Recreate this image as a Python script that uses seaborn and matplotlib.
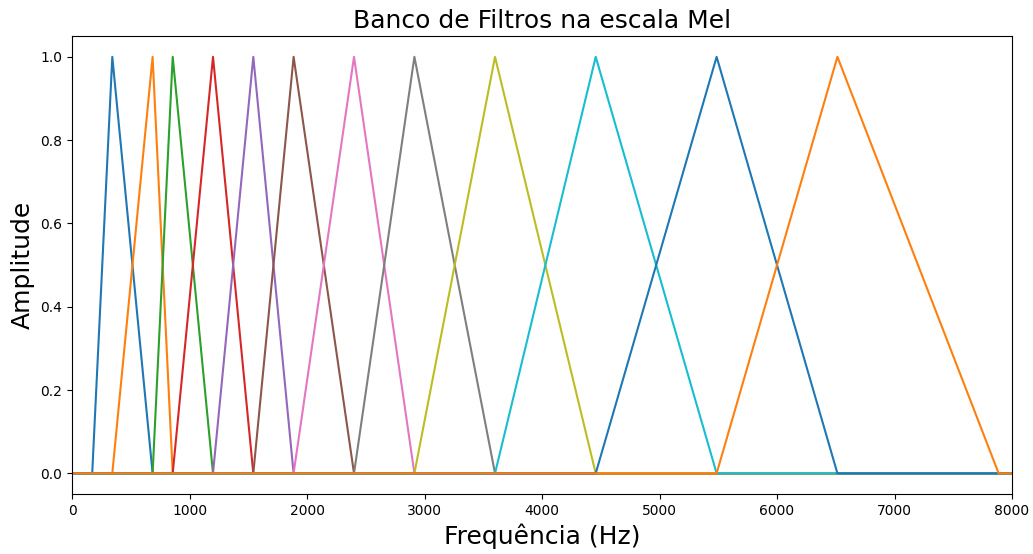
import numpy as np
import pandas as pd
import matplotlib
matplotlib.use("Agg")
import matplotlib.pyplot as plt
import seaborn as sns

# ------------------------------
# Data: filter edge frequencies (Hz)
# filter i goes edges[i] -> edges[i+1] (peak) -> edges[i+2]
# ------------------------------
EDGES_HZ = [172, 343, 686, 857, 1200, 1543, 1886, 2400, 2914, 3600,
            4457, 5486, 6514, 7886]
F_MIN = 0
F_MAX = 8000
N_FILTERS = len(EDGES_HZ) - 2

# ------------------------------
# Build long-format table (one polyline per filter)
# ------------------------------
rows = []
for i in range(N_FILTERS):
    lo, mid, hi = EDGES_HZ[i], EDGES_HZ[i + 1], EDGES_HZ[i + 2]
    for f, a in zip([F_MIN, lo, mid, hi, F_MAX], [0, 0, 1, 0, 0]):
        rows.append({"filtro": i, "freq": f, "amp": a})
df = pd.DataFrame(rows)

# ------------------------------
# Plot
# ------------------------------
fig = plt.figure(figsize=(10.33, 5.54), dpi=100)
ax = fig.add_axes([0.0697, 0.108, 0.9100, 0.827])

sns.lineplot(data=df, x="freq", y="amp", hue="filtro",
             palette=sns.color_palette("tab10", N_FILTERS),
             estimator=None, sort=False, legend=False, linewidth=1.5, ax=ax)

ax.set_xlim(F_MIN, F_MAX)
ax.set_ylim(-0.05, 1.05)
ax.set_title("Banco de Filtros na escala Mel", fontsize=18)
ax.set_xlabel("Frequência (Hz)", fontsize=18)
ax.set_ylabel("Amplitude", fontsize=18)

fig.savefig("out.png", dpi=100)
